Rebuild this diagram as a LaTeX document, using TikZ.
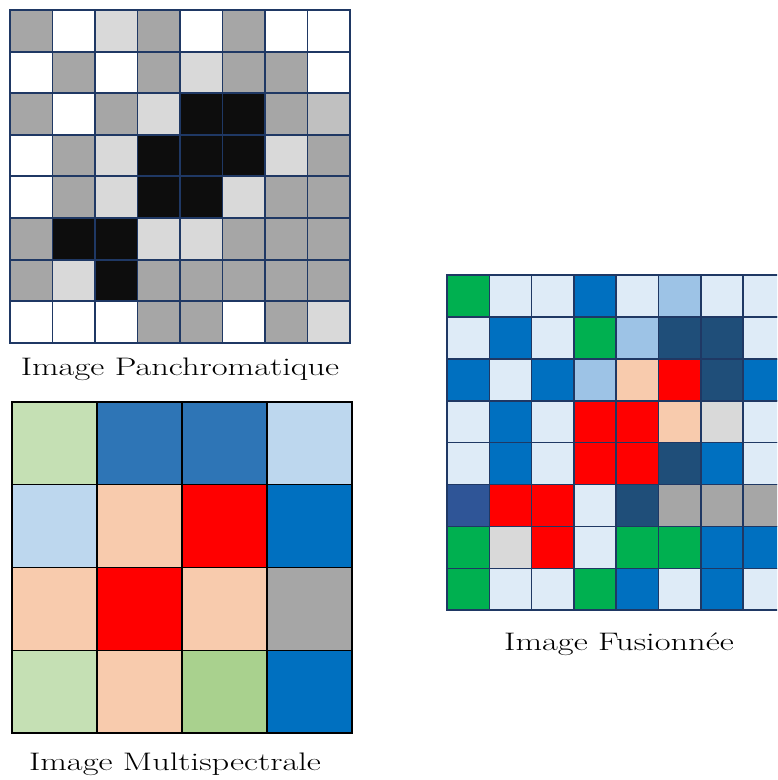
\documentclass[tikz,border=0pt]{standalone}
\usetikzlibrary{positioning}
\definecolor{panGray}{HTML}{A6A6A6}
\definecolor{panLight}{HTML}{D9D9D9}
\definecolor{panSilver}{HTML}{C0C0C0}
\definecolor{panBlack}{HTML}{0D0D0D}
\definecolor{gridNavy}{HTML}{1F3864}
\definecolor{msGreen}{HTML}{C5E0B4}
\definecolor{msLeaf}{HTML}{A9D18E}
\definecolor{msSteel}{HTML}{2E75B6}
\definecolor{msSky}{HTML}{BDD7EE}
\definecolor{msPeach}{HTML}{F8CBAD}
\definecolor{msRed}{HTML}{FF0000}
\definecolor{msBlue}{HTML}{0070C0}
\definecolor{fuGreen}{HTML}{00B050}
\definecolor{fuPale}{HTML}{DEEBF7}
\definecolor{fuMid}{HTML}{9DC3E6}
\definecolor{fuDark}{HTML}{1F4E79}
\definecolor{fuNavy}{HTML}{2F5597}
\newcommand{\widecap}[1]{\scalebox{1.36}[1]{#1}}
\tikzset{
  pancell/.style={fill=#1,draw=gridNavy,line width=1.4pt},
  mscell/.style={fill=#1,draw=black,line width=1.1pt},
  fucell/.style={fill=#1,draw=gridNavy,line width=1.2pt},
  caption/.style={font=\fontsize{19}{22}\selectfont,inner sep=0pt,anchor=base}
}

\begin{document}
\begin{tikzpicture}[x=0.75pt,y=-0.75pt]
  \useasboundingbox (0,0) rectangle (777,780);
  \clip (0,0) rectangle (777,780);

  % panchromatic image, 8 x 8
  \foreach \row [count=\j from 0] in {
      {panGray,white,panLight,panGray,white,panGray,white,white},
      {white,panGray,white,panGray,panLight,panGray,panGray,white},
      {panGray,white,panGray,panLight,panBlack,panBlack,panGray,panSilver},
      {white,panGray,panLight,panBlack,panBlack,panBlack,panLight,panGray},
      {white,panGray,panLight,panBlack,panBlack,panLight,panGray,panGray},
      {panGray,panBlack,panBlack,panLight,panLight,panGray,panGray,panGray},
      {panGray,panLight,panBlack,panGray,panGray,panGray,panGray,panGray},
      {white,white,white,panGray,panGray,white,panGray,panLight}} {
    \foreach \c [count=\i from 0] in \row
      \draw[pancell=\c] ({10+42.5*\i},{10+41.6*\j}) rectangle ++(42.5,41.6);
  }
  \node[caption] (panLabel) at (180,375) {\widecap{Image Panchromatique}};

  % multispectral image, 4 x 4
  \foreach \row [count=\j from 0] in {
      {msGreen,msSteel,msSteel,msSky},
      {msSky,msPeach,msRed,msBlue},
      {msPeach,msRed,msPeach,panGray},
      {msGreen,msPeach,msLeaf,msBlue}} {
    \foreach \c [count=\i from 0] in \row
      \draw[mscell=\c] ({12+85*\i},{402+82.75*\j}) rectangle ++(85,82.75);
  }
  \node[caption] (msLabel) at (175,770) {\widecap{Image Multispectrale}};

  % fused image, 8 x 8 (cut at the right edge)
  \foreach \row [count=\j from 0] in {
      {fuGreen,fuPale,fuPale,msBlue,fuPale,fuMid,fuPale,fuPale},
      {fuPale,msBlue,fuPale,fuGreen,fuMid,fuDark,fuDark,fuPale},
      {msBlue,fuPale,msBlue,fuMid,msPeach,msRed,fuDark,msBlue},
      {fuPale,msBlue,fuPale,msRed,msRed,msPeach,panLight,fuPale},
      {fuPale,msBlue,fuPale,msRed,msRed,fuDark,msBlue,fuPale},
      {fuNavy,msRed,msRed,fuPale,fuDark,panGray,panGray,panGray},
      {fuGreen,panLight,msRed,fuPale,fuGreen,fuGreen,msBlue,msBlue},
      {fuGreen,fuPale,fuPale,fuGreen,msBlue,fuPale,msBlue,fuPale}} {
    \foreach \c [count=\i from 0] in \row
      \draw[fucell=\c] ({447+42.3*\i},{275+41.9*\j}) rectangle ++(42.3,41.9);
  }
  \node[caption] (fuLabel) at (619,650) {\widecap{Image Fusionnée}};
\end{tikzpicture}
\end{document}
